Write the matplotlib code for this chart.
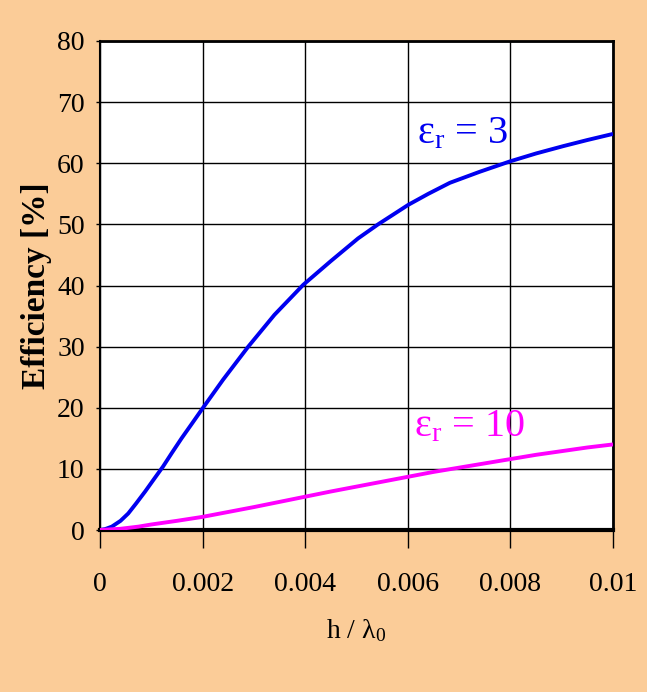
import matplotlib
matplotlib.use("Agg")
import matplotlib.pyplot as plt

plt.rcParams["mathtext.fontset"] = "custom"
plt.rcParams["mathtext.rm"] = "Liberation Serif"
plt.rcParams["mathtext.it"] = "Liberation Serif:italic"

# values
h_er3 = [0.0, 0.0001, 0.00023, 0.0004, 0.00055, 0.0007, 0.00088, 0.00105, 0.00123,
         0.0014, 0.00159, 0.0018, 0.002, 0.0024, 0.00289, 0.0034, 0.00396, 0.0045,
         0.00503, 0.00542, 0.00601, 0.0064, 0.00682, 0.0074, 0.00799, 0.0085,
         0.00903, 0.0095, 0.01]
eff_er3 = [0.0, 0.15, 0.55, 1.5, 2.7, 4.3, 6.3, 8.3, 10.4,
           12.6, 15.0, 17.5, 19.9, 24.6, 30.0, 35.2, 40.1, 44.0,
           47.7, 50.0, 53.2, 55.0, 56.8, 58.6, 60.3, 61.6,
           62.8, 63.8, 64.8]

h_er10 = [0.0, 0.0004, 0.00075, 0.001, 0.0015, 0.002, 0.0025, 0.003, 0.0035,
          0.004, 0.0045, 0.005, 0.0055, 0.006, 0.0065, 0.007, 0.0075, 0.008,
          0.0085, 0.009, 0.0095, 0.01]
eff_er10 = [0.0, 0.2, 0.55, 0.9, 1.5, 2.15, 2.95, 3.75, 4.6,
            5.45, 6.3, 7.1, 7.9, 8.7, 9.5, 10.2, 10.9, 11.6,
            12.3, 12.9, 13.5, 14.0]

xticks = [0, 0.002, 0.004, 0.006, 0.008, 0.01]
xticklabels = ["0", "0.002", "0.004", "0.006", "0.008", "0.01"]
yticks = [0, 10, 20, 30, 40, 50, 60, 70, 80]

bg = "#FBCC98"
serif = ["Liberation Serif", "DejaVu Serif"]

fig = plt.figure(figsize=(6.47, 6.92), dpi=100, facecolor=bg)
ax = fig.add_axes([100/647, 1-530/692, 513/647, 489/692])
ax.set_facecolor("white")

ax.plot(h_er3, eff_er3, color="#0000F0", lw=2.8, solid_capstyle="butt", zorder=3)
ax.plot(h_er10, eff_er10, color="#FF00FF", lw=2.8, solid_capstyle="butt", zorder=3)

ax.set_xlim(0, 0.01)
ax.set_ylim(0, 80)
ax.set_xticks(xticks)
ax.set_xticklabels(xticklabels)
ax.set_yticks(yticks)
ax.grid(True, color="black", lw=1.0)
ax.set_axisbelow(True)

for s in ["top", "right"]:
    ax.spines[s].set_linewidth(2.0)
ax.spines["left"].set_linewidth(1.5)
ax.spines["bottom"].set_linewidth(3.0)

ax.tick_params(axis="x", direction="out", length=13, width=1, pad=17)
ax.tick_params(axis="y", direction="out", length=3, width=1, pad=8)
for lab in ax.get_xticklabels() + ax.get_yticklabels():
    lab.set_family(serif)
    lab.set_fontsize(20)

ax.set_ylabel("Efficiency [%]", family=serif, fontsize=24, fontweight="bold", labelpad=4)
ax.set_xlabel(r"h / $\mathregular{λ_0}$", family=serif, fontsize=20, labelpad=15)

ax.text(0.00617, 63.2, r"$\mathregular{ε_r}$ = 3", color="#0000F0", fontsize=29,
        family=serif, ha="left", va="baseline", zorder=4)
ax.text(0.00613, 15.3, r"$\mathregular{ε_r}$ = 10", color="#FF00FF", fontsize=29,
        family=serif, ha="left", va="baseline", zorder=4)

fig.savefig("out.png", dpi=100, facecolor=bg)
